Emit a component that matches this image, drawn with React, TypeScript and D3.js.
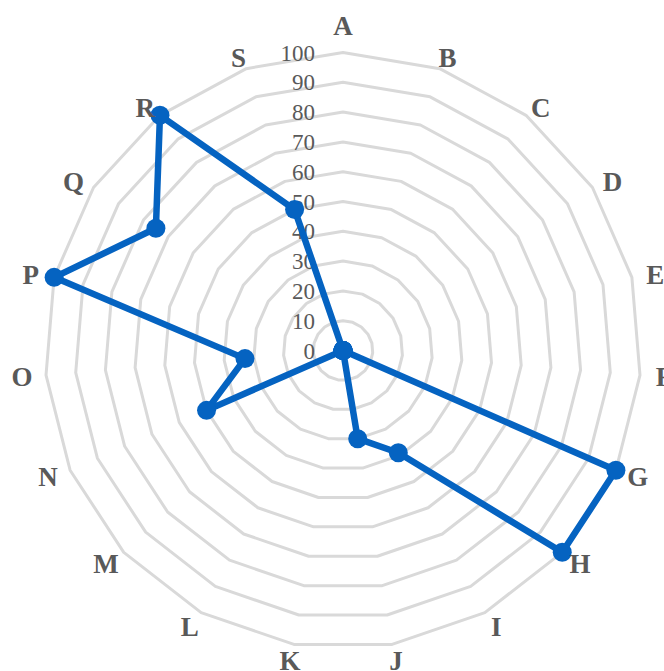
import React from "react";
import * as d3 from "d3";

const categories = ["A","B","C","D","E","F","G","H","I","J","K","L","M","N","O","P","Q","R","S"];
const values = [0, 0, 0, 0, 0, 0, 100, 100, 39, 30, 0, 0, 0, 50, 33, 100, 75, 100, 50];
const tickValues = [0, 10, 20, 30, 40, 50, 60, 70, 80, 90, 100];

const W = 664;
const H = 671;
const cx = 343;
const cy = 350.5;
const R = 298;

const TEXT = "#595959";
const GRID = "#d9d9d9";
const LINE = "#0563c1";
const FONT = "'Times New Roman', 'Liberation Serif', serif";

export default function App() {
  const n = categories.length;
  const angle = d3
    .scaleLinear()
    .domain([0, n])
    .range([0, 2 * Math.PI]);
  const r = d3.scaleLinear().domain([0, 100]).range([0, R]);

  const pt = (i: number, v: number): [number, number] => {
    const a = angle(i);
    return [cx + r(v) * Math.sin(a), cy - r(v) * Math.cos(a)];
  };

  const ringPath = (v: number) =>
    d3.line<number>()
      .x((i) => pt(i, v)[0])
      .y((i) => pt(i, v)[1])
      .curve(d3.curveLinearClosed)(categories.map((_, i) => i)) || "";

  const seriesPath =
    d3.line<number>()
      .x((d, i) => pt(i, d)[0])
      .y((d, i) => pt(i, d)[1])
      .curve(d3.curveLinearClosed)(values) || "";

  // category label placement: a little outside the outer ring,
  // with extra room above the top label
  const labelPos = (i: number): [number, number] => {
    const a = angle(i);
    const s = Math.sin(a);
    const c = Math.cos(a);
    const rx = 322;
    const ry = c > 0 ? 308 + 17 * Math.pow(c, 40) : 314;
    return [cx + rx * s, cy - ry * c];
  };

  return (
    <svg
      width={W}
      height={H}
      style={{ position: "absolute", left: 0, top: 0, background: "#fff" }}
    >
      <g fill="none" stroke={GRID} strokeWidth={3} strokeLinejoin="round">
        {tickValues
          .filter((t) => t > 0)
          .map((t) => (
            <path key={t} d={ringPath(t)} />
          ))}
      </g>

      <g fontFamily={FONT} fontSize={23} fill={TEXT} textAnchor="end">
        {tickValues.map((t) => (
          <text key={t} x={cx - 28} y={cy - r(t)} dy="0.35em">
            {t}
          </text>
        ))}
      </g>

      <path
        d={seriesPath}
        fill="none"
        stroke={LINE}
        strokeWidth={6.5}
        strokeLinejoin="round"
      />
      <g fill={LINE}>
        {values.map((v, i) => {
          const [x, y] = pt(i, v);
          return <circle key={i} cx={x} cy={y} r={9.5} />;
        })}
      </g>

      <g fontFamily={FONT} fontSize={27} fontWeight="bold" fill={TEXT} textAnchor="middle">
        {categories.map((c, i) => {
          const [x, y] = labelPos(i);
          return (
            <text key={c} x={x} y={y} dy="0.35em">
              {c}
            </text>
          );
        })}
      </g>
    </svg>
  );
}
